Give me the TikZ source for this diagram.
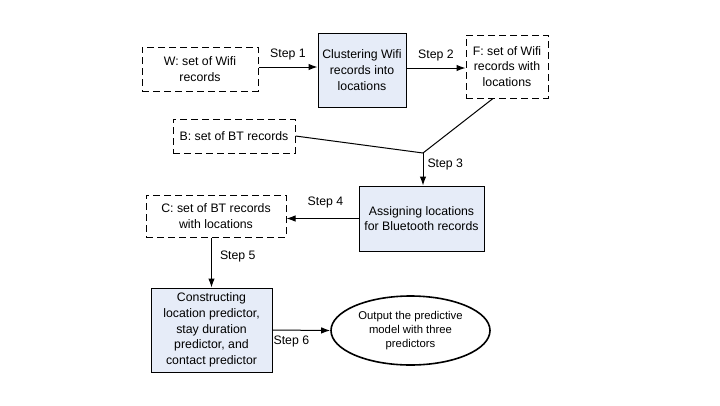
\documentclass[tikz,border=0pt]{standalone}
\usepackage{fontspec}
\setmainfont{Liberation Sans}
\usetikzlibrary{arrows.meta,shapes.geometric}

\definecolor{boxfill}{RGB}{230,236,248}

\tikzset{
  every node/.style={font=\fontsize{12.3}{15.6}\selectfont},
  setbox/.style={draw,dash pattern=on 7pt off 4pt,line width=1pt,align=center,inner sep=0pt},
  taskbox/.style={draw,fill=boxfill,line width=1pt,align=center,inner sep=0pt},
  endnode/.style={ellipse,draw,line width=1.6pt,align=center,inner sep=0pt,font=\fontsize{11.3}{13.8}\selectfont},
  flow/.style={line width=1pt,-{Latex[length=9pt,width=6.5pt]}},
  steplabel/.style={inner sep=2pt}
}

\begin{document}
\begin{tikzpicture}[x=1pt,y=-1pt]
\useasboundingbox (0,0) rectangle (720,405);
% sets of records
\node[setbox,minimum width=116pt,minimum height=44pt] (wifi) at (200,69) {W: set of Wifi\\records};
\node[setbox,minimum width=82pt,minimum height=63pt] (wifiloc) at (507,66.5) {F: set of Wifi\\records with\\locations};
\node[setbox,minimum width=122pt,minimum height=34pt] (bt) at (234,136) {B: set of BT records};
\node[setbox,minimum width=140pt,minimum height=42pt] (btloc) at (216,216) {C: set of BT records\\with locations};
% tasks
\node[taskbox,minimum width=88pt,minimum height=74pt] (cluster) at (362,70) {Clustering Wifi\\records into\\locations};
\node[taskbox,minimum width=125pt,minimum height=65pt] (assign) at (421.5,218.5) {Assigning locations\\for Bluetooth records};
\node[taskbox,minimum width=121pt,minimum height=84pt] (build) at (211.5,330) {Constructing\\location predictor,\\stay duration\\predictor, and\\contact predictor};
\node[endnode,minimum width=159pt,minimum height=69pt] (model) at (410.5,330.5) {Output the predictive\\model with three\\predictors};
\coordinate (merge) at (423,153);

\draw[flow] ([yshift=2pt]wifi.east) -- ([yshift=2pt]wifi.east -| cluster.west) node[steplabel,midway,above=4pt] {Step 1};
\draw[flow] ([yshift=2pt]cluster.east) -- ([yshift=2pt]cluster.east -| wifiloc.west) node[steplabel,midway,above=4pt] {Step 2};
\draw[line width=1pt] ([xshift=-14pt]wifiloc.south) -- (merge);
\draw[line width=1pt] (bt.east) -- (merge);
\draw[flow] (merge) -- (merge |- assign.north) node[steplabel,pos=0.35,right=2pt] {Step 3};
\draw[flow] (assign.west) -- (assign.west -| btloc.east) node[steplabel,midway,above=8pt,xshift=3pt] {Step 4};
\draw[flow] (btloc.south -| build.north) -- (build.north) node[steplabel,midway,right=6pt,yshift=6pt] {Step 5};
\draw[flow] (build.east) -- (model.west) node[steplabel,midway,below=3pt,xshift=-10pt] {Step 6};
\end{tikzpicture}
\end{document}
